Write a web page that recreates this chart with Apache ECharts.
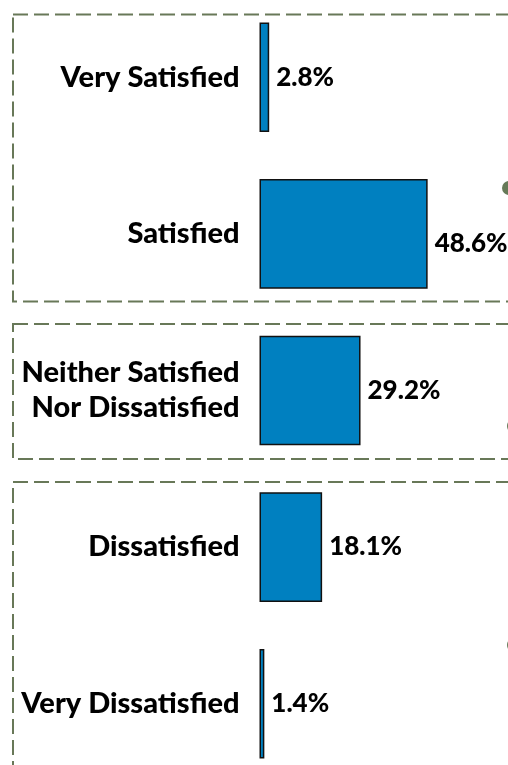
<!DOCTYPE html>
<html>
<head>
<meta charset="utf-8">
<style>
html,body{margin:0;padding:0;background:#fff;}
#c{width:508px;height:765px;}
</style>
<script src="https://cdn.jsdelivr.net/npm/echarts@6/dist/echarts.min.js"></script>
</head>
<body>
<div id="c"></div>
<script>
const categories = ['Very Satisfied', 'Satisfied', 'Neither Satisfied\nNor Dissatisfied', 'Dissatisfied', 'Very Dissatisfied'];
const values = [2.8, 48.6, 29.2, 18.1, 1.4];
const valueLabels = ['2.8%', '48.6%', '29.2%', '18.1%', '1.4%'];

const chart = echarts.init(document.getElementById('c'), null, {renderer: 'canvas'});
const boxColor = '#687858';
const FONT = 'Lato';

const data = values.map((v, i) => {
  const item = {value: v};
  if (i === 1) item.label = {offset: [0, 10]};
  return item;
});

chart.setOption({
  animation: false,
  backgroundColor: '#ffffff',
  grid: {left: 259.5, width: 207.6, top: -1, height: 783, containLabel: false, outerBoundsMode: 'none'},
  xAxis: {
    type: 'value', min: 0, max: 60,
    show: false
  },
  yAxis: {
    type: 'category', data: categories, inverse: true,
    axisLine: {show: false}, axisTick: {show: false}, splitLine: {show: false},
    axisLabel: {
      margin: 20, color: '#000', fontFamily: FONT, fontWeight: 900, fontSize: 29,
      lineHeight: 35, align: 'right', padding: [0, 0, 6, 0]
    }
  },
  series: [{
    type: 'bar',
    data: data,
    barCategoryGap: '30%',
    itemStyle: {color: '#0080C0', borderColor: '#111111', borderWidth: 1.5},
    label: {
      show: true, position: 'right', distance: 7,
      color: '#000', fontFamily: FONT, fontWeight: 900, fontSize: 26,
      formatter: p => valueLabels[p.dataIndex]
    }
  }],
  graphic: [
    {type: 'rect', shape: {x: 13, y: 14.5, width: 520, height: 287}, style: {fill: null, stroke: boxColor, lineWidth: 2, lineDash: [15, 6]}, silent: true},
    {type: 'rect', shape: {x: 13, y: 324, width: 520, height: 135}, style: {fill: null, stroke: boxColor, lineWidth: 2, lineDash: [15, 6]}, silent: true},
    {type: 'rect', shape: {x: 13, y: 482, width: 520, height: 320}, style: {fill: null, stroke: boxColor, lineWidth: 2, lineDash: [15, 6]}, silent: true},
    {type: 'circle', shape: {cx: 509, cy: 188, r: 7}, style: {fill: '#667a58'}, silent: true},
    {type: 'circle', shape: {cx: 514, cy: 426, r: 7}, style: {fill: '#667a58'}, silent: true},
    {type: 'circle', shape: {cx: 514, cy: 645, r: 7}, style: {fill: '#667a58'}, silent: true}
  ]
});
</script>
</body>
</html>
